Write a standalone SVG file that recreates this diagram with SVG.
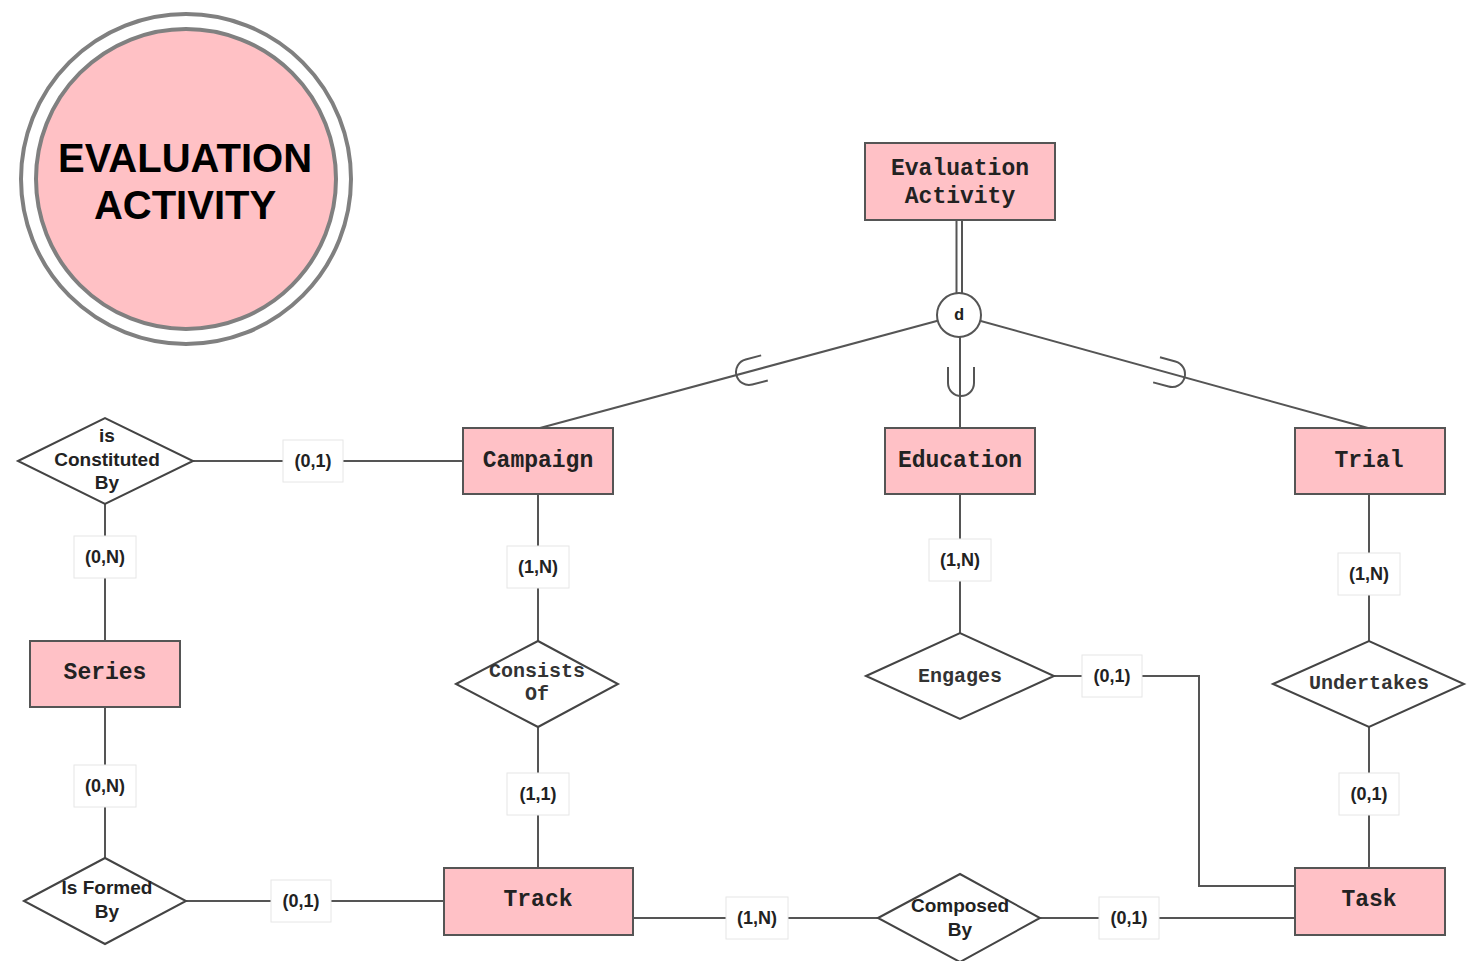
<svg xmlns="http://www.w3.org/2000/svg" width="1480" height="961" viewBox="0 0 1480 961">
  <style>
    .ent rect { fill: #ffc1c6; stroke: #555; stroke-width: 2; }
    .ent text { font-family: "Liberation Mono", "Courier New", monospace; font-weight: bold; font-size: 23px; fill: #222; text-anchor: middle; }
    .rel polygon { fill: #fff; stroke: #444; stroke-width: 2; }
    .rel text.mono { font-family: "Liberation Mono", "Courier New", monospace; font-weight: bold; font-size: 20px; fill: #333; text-anchor: middle; }
    .rel text.sans { font-family: "Liberation Sans", Arial, sans-serif; font-weight: bold; font-size: 19px; fill: #222; text-anchor: middle; }
    .edge { stroke: #555; stroke-width: 2; fill: none; }
    .card rect { fill: #fff; stroke: #e6e6e6; stroke-width: 1; }
    .card text { font-family: "Liberation Sans", Arial, sans-serif; font-weight: bold; font-size: 18px; fill: #222; text-anchor: middle; }
    .sub { stroke: #555; stroke-width: 2; fill: none; }
  </style>
  <defs>
    <path id="subset" class="sub" d="M 16 -13 H 0 A 13 13 0 0 0 0 13 H 16"/>
  </defs>
  <rect width="1480" height="961" fill="#fff"/>

  <!-- title badge -->
  <g id="title">
    <circle cx="186" cy="179" r="165" fill="#fff" stroke="#808080" stroke-width="4"/>
    <circle cx="186" cy="179" r="150" fill="#ffc1c5" stroke="#808080" stroke-width="4"/>
    <text x="185" y="172" font-family="Liberation Sans, Arial, sans-serif" font-weight="bold" font-size="40" text-anchor="middle" fill="#000">EVALUATION</text>
    <text x="185" y="219" font-family="Liberation Sans, Arial, sans-serif" font-weight="bold" font-size="40" text-anchor="middle" fill="#000">ACTIVITY</text>
  </g>

  <!-- connectors -->
  <g id="connectors">
    <!-- total participation: double line -->
    <line x1="956.5" y1="220" x2="956.5" y2="296" stroke="#555" stroke-width="2"/>
    <line x1="962" y1="220" x2="962" y2="296" stroke="#555" stroke-width="2"/>
    <line class="edge" x1="959" y1="315" x2="540" y2="428"/>
    <line class="edge" x1="959" y1="315" x2="1368" y2="428"/>
    <line class="edge" x1="960" y1="315" x2="960" y2="428"/>
    <use href="#subset" transform="translate(749,372) rotate(-14.8)"/>
    <use href="#subset" transform="translate(961,383) rotate(-90)"/>
    <use href="#subset" transform="translate(1172,374) rotate(195.2)"/>

    <line class="edge" x1="193" y1="461" x2="463" y2="461"/>
    <line class="edge" x1="105" y1="504" x2="105" y2="641"/>
    <line class="edge" x1="105" y1="707" x2="105" y2="858"/>
    <line class="edge" x1="186" y1="901" x2="444" y2="901"/>
    <line class="edge" x1="538" y1="494" x2="538" y2="641"/>
    <line class="edge" x1="538" y1="727" x2="538" y2="868"/>
    <line class="edge" x1="633" y1="918" x2="878" y2="918"/>
    <line class="edge" x1="1040" y1="918" x2="1295" y2="918"/>
    <line class="edge" x1="960" y1="494" x2="960" y2="633"/>
    <polyline class="edge" points="1054,676 1199,676 1199,886 1295,886"/>
    <line class="edge" x1="1369" y1="494" x2="1369" y2="641"/>
    <line class="edge" x1="1369" y1="727" x2="1369" y2="868"/>
  </g>

  <!-- disjoint specialization -->
  <g id="disjoint">
    <circle cx="959" cy="315" r="22" fill="#fff" stroke="#555" stroke-width="2"/>
    <text x="959" y="320" font-family="Liberation Mono, Courier New, monospace" font-weight="bold" font-size="17" text-anchor="middle" fill="#222">d</text>
  </g>

  <!-- entities -->
  <g id="evaluation-activity" class="ent">
    <rect x="865" y="143" width="190" height="77"/>
    <text x="960" y="175">Evaluation</text>
    <text x="960" y="203">Activity</text>
  </g>
  <g id="campaign" class="ent">
    <rect x="463" y="428" width="150" height="66"/>
    <text x="538" y="467">Campaign</text>
  </g>
  <g id="education" class="ent">
    <rect x="885" y="428" width="150" height="66"/>
    <text x="960" y="467">Education</text>
  </g>
  <g id="trial" class="ent">
    <rect x="1295" y="428" width="150" height="66"/>
    <text x="1369" y="467">Trial</text>
  </g>
  <g id="series" class="ent">
    <rect x="30" y="641" width="150" height="66"/>
    <text x="105" y="679">Series</text>
  </g>
  <g id="track" class="ent">
    <rect x="444" y="868" width="189" height="67"/>
    <text x="538" y="906">Track</text>
  </g>
  <g id="task" class="ent">
    <rect x="1295" y="868" width="150" height="67"/>
    <text x="1369" y="906">Task</text>
  </g>

  <!-- relationships -->
  <g id="is-constituted-by" class="rel">
    <polygon points="18,461 105,418 193,461 105,504"/>
    <text class="sans" x="107" y="442">is</text>
    <text class="sans" x="107" y="466">Constituted</text>
    <text class="sans" x="107" y="489">By</text>
  </g>
  <g id="is-formed-by" class="rel">
    <polygon points="24,901 105,858 186,901 105,944"/>
    <text class="sans" x="107" y="894">Is Formed</text>
    <text class="sans" x="107" y="918">By</text>
  </g>
  <g id="consists-of" class="rel">
    <polygon points="456,684 538,641 618,684 538,727"/>
    <text class="mono" x="537" y="677">Consists</text>
    <text class="mono" x="537" y="700">Of</text>
  </g>
  <g id="composed-by" class="rel">
    <polygon points="878,918 960,874 1040,918 960,962"/>
    <text class="sans" x="960" y="912">Composed</text>
    <text class="sans" x="960" y="936">By</text>
  </g>
  <g id="engages" class="rel">
    <polygon points="866,676 960,633 1054,676 960,719"/>
    <text class="mono" x="960" y="682">Engages</text>
  </g>
  <g id="undertakes" class="rel">
    <polygon points="1273,684 1369,641 1464,684 1369,727"/>
    <text class="mono" x="1369" y="689">Undertakes</text>
  </g>

  <!-- cardinalities -->
  <g id="cardinalities" class="card">
    <rect x="283" y="440" width="60" height="42"/><text x="313" y="467">(0,1)</text>
    <rect x="74" y="536" width="62" height="42"/><text x="105" y="563">(0,N)</text>
    <rect x="74" y="765" width="62" height="42"/><text x="105" y="792">(0,N)</text>
    <rect x="271" y="880" width="60" height="42"/><text x="301" y="907">(0,1)</text>
    <rect x="507" y="546" width="62" height="42"/><text x="538" y="573">(1,N)</text>
    <rect x="507" y="773" width="62" height="42"/><text x="538" y="800" font-family="Liberation Mono, Courier New, monospace">(1,1)</text>
    <rect x="726" y="897" width="62" height="42"/><text x="757" y="924">(1,N)</text>
    <rect x="1099" y="897" width="60" height="42"/><text x="1129" y="924">(0,1)</text>
    <rect x="929" y="539" width="62" height="42"/><text x="960" y="566">(1,N)</text>
    <rect x="1082" y="655" width="60" height="42"/><text x="1112" y="682">(0,1)</text>
    <rect x="1338" y="553" width="62" height="42"/><text x="1369" y="580">(1,N)</text>
    <rect x="1339" y="773" width="60" height="42"/><text x="1369" y="800">(0,1)</text>
  </g>
</svg>
